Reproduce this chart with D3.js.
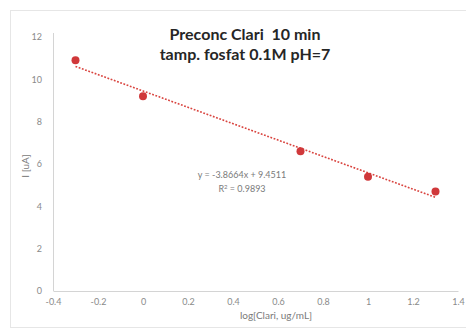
<!DOCTYPE html>
<html>
<head>
<meta charset="utf-8">
<script src="https://cdn.jsdelivr.net/npm/d3@7/dist/d3.min.js"></script>
<style>
  html, body { margin: 0; padding: 0; background: #fff; }
  svg { display: block; }
</style>
</head>
<body>
<svg id="chart" width="466" height="330"></svg>
<script>
// Measured points: log concentration vs. peak current
const logConc = [-0.3, 0, 0.7, 1, 1.3];
const current = [10.9, 9.2, 6.6, 5.4, 4.7];

// Linear fit reported on the chart
const fitSlope = [-3.8664];
const fitIntercept = [9.4511];
const fitR2 = [0.9893];

const xTicks = [-0.4, -0.2, 0, 0.2, 0.4, 0.6, 0.8, 1, 1.2, 1.4];
const yTicks = [0, 2, 4, 6, 8, 10, 12];

const titleLines = ["Preconc Clari  10 min", "tamp. fosfat 0.1M pH=7"];
const xTitle = "log[Clari, ug/mL]";
const yTitle = "I [uA]";

const svg = d3.select("#chart");
const fontFamily = "Lato, 'Open Sans', sans-serif";

// chart frame
svg.append("rect")
  .attr("x", 10.5).attr("y", 10.5)
  .attr("width", 470).attr("height", 317)
  .attr("fill", "#fff")
  .attr("stroke", "#e6e6e6");

const plot = { left: 53, right: 458, top: 37, bottom: 291 };

const x = d3.scaleLinear().domain([-0.4, 1.4]).range([plot.left, plot.right]);
const y = d3.scaleLinear().domain([0, 12]).range([plot.bottom, plot.top]);

// axes
const xAxis = d3.axisBottom(x).tickValues(xTicks).tickSize(0).tickPadding(8)
  .tickFormat(d => String(+d.toFixed(1)));
const yAxis = d3.axisLeft(y).tickValues(yTicks).tickSize(0).tickPadding(11)
  .tickFormat(d => String(d));

const gx = svg.append("g").attr("transform", `translate(0,${plot.bottom})`).call(xAxis);
const gy = svg.append("g").attr("transform", `translate(${plot.left},0)`).call(yAxis);

[gx, gy].forEach(g => {
  g.select(".domain").attr("stroke", "#d4d4d4").attr("stroke-width", 1);
  g.selectAll("text")
    .attr("fill", "#8a8a8a")
    .style("font-family", fontFamily)
    .style("font-size", "9px");
});
gy.select(".domain").attr("d", `M0.5,${plot.top - 4}V${plot.bottom}`);

// trendline from the fitted equation
const fitX = d3.extent(logConc);
svg.append("line")
  .attr("x1", x(fitX[0])).attr("y1", y(fitSlope[0] * fitX[0] + fitIntercept[0]))
  .attr("x2", x(fitX[1])).attr("y2", y(fitSlope[0] * fitX[1] + fitIntercept[0]))
  .attr("stroke", "#d9443f")
  .attr("stroke-width", 1.6)
  .attr("stroke-dasharray", "1.8,1.6");

// points
svg.append("g").selectAll("circle")
  .data(logConc.map((d, i) => [d, current[i]]))
  .join("circle")
  .attr("cx", d => x(d[0]))
  .attr("cy", d => y(d[1]))
  .attr("r", 4)
  .attr("fill", "#d0383a");

// equation label
const eq = svg.append("text")
  .attr("text-anchor", "middle")
  .attr("fill", "#7a7a7a")
  .style("font-family", fontFamily)
  .style("font-size", "9px");
eq.append("tspan").attr("x", 242).attr("y", 178)
  .text(`y = ${fitSlope[0]}x + ${fitIntercept[0]}`);
const r2 = eq.append("tspan").attr("x", 242).attr("y", 192);
r2.append("tspan").text("R");
r2.append("tspan").attr("dy", -3).style("font-size", "6px").text("2");
r2.append("tspan").attr("dy", 3).text(` = ${fitR2[0]}`);

// title
svg.append("text")
  .attr("text-anchor", "middle")
  .attr("fill", "#262626")
  .style("font-family", fontFamily)
  .style("font-weight", "bold")
  .style("font-size", "16px")
  .style("white-space", "pre")
  .selectAll("tspan")
  .data(titleLines)
  .join("tspan")
  .attr("x", 245)
  .attr("y", (d, i) => 40 + i * 20)
  .text(d => d);

// axis titles
svg.append("text")
  .attr("x", 276).attr("y", 319)
  .attr("text-anchor", "middle")
  .attr("fill", "#7a7a7a")
  .style("font-family", fontFamily)
  .style("font-size", "10px")
  .text(xTitle);

svg.append("text")
  .attr("transform", "translate(29,166) rotate(-90)")
  .attr("text-anchor", "middle")
  .attr("fill", "#7a7a7a")
  .style("font-family", fontFamily)
  .style("font-size", "10px")
  .text(yTitle);
</script>
</body>
</html>
